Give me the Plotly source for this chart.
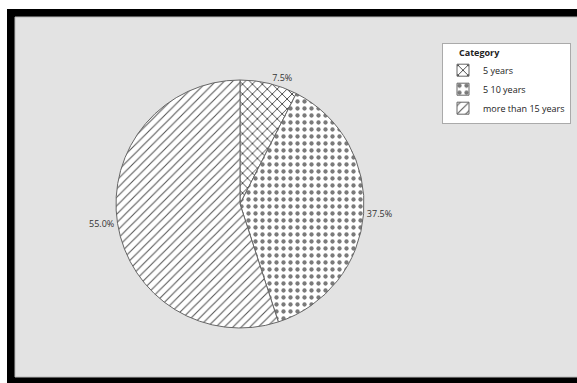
import plotly.graph_objects as go

categories = ["5 years", "5 10 years", "more than 15 years"]
counts = [3, 15, 22]
patterns = ["x", ".", "/"]

W, H = 577, 383

def px(x):
    return x / W

def py(y):
    return 1 - y / H

cx, cy, r = 240, 204, 124

fig = go.Figure(go.Pie(
    labels=categories,
    values=counts,
    sort=False,
    direction="clockwise",
    rotation=0,
    textposition="outside",
    texttemplate="%{percent:.1%}",
    textfont=dict(family="Open Sans", size=9, color="#333333"),
    marker=dict(
        colors=["white"] * 3,
        line=dict(color="#666666", width=1),
        pattern=dict(shape=patterns, fgcolor=["#444444", "#7a7a7a", "#555555"], bgcolor="white",
                     size=[7, 7, 6], solidity=[0.25, 0.3, 0.18]),
    ),
    domain=dict(x=[px(cx - r), px(cx + r)], y=[py(cy + r), py(cy - r)]),
    hoverinfo="skip",
))

fig.update_layout(
    width=W, height=H,
    margin=dict(l=0, r=0, t=0, b=0),
    paper_bgcolor="white",
    plot_bgcolor="white",
    showlegend=True,
    legend=dict(
        title=dict(text="&nbsp;&nbsp;&nbsp;&nbsp;&nbsp;&nbsp;<b>Category</b>",
                   font=dict(family="Open Sans", size=9, color="#222222")),
        font=dict(family="Open Sans", size=9, color="#222222"),
        x=px(442), y=py(43), xanchor="left", yanchor="top",
        bgcolor="white", bordercolor="#aaaaaa", borderwidth=1,
        itemwidth=30,
    ),
    shapes=[
        dict(type="rect", xref="paper", yref="paper", layer="below",
             x0=px(7), x1=px(590), y0=py(383), y1=py(9),
             fillcolor="black", line=dict(width=0)),
        dict(type="rect", xref="paper", yref="paper", layer="below",
             x0=px(15), x1=px(590), y0=py(377), y1=py(17),
             fillcolor="#e3e3e3", line=dict(color="#bbbbbb", width=1)),
    ],
)

fig.write_html("out.html")
